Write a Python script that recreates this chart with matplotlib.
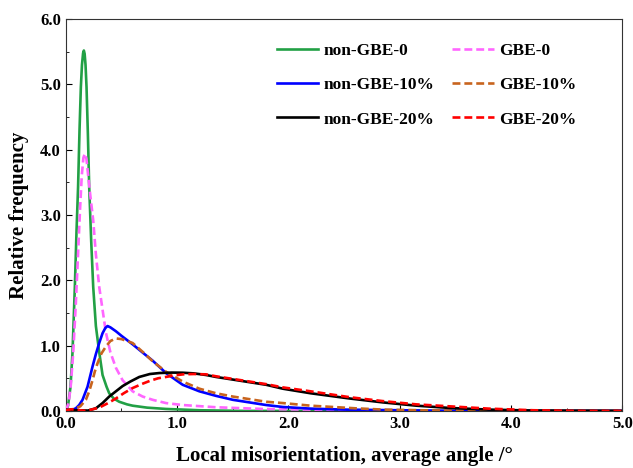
import numpy as np
import matplotlib.pyplot as plt
from matplotlib.ticker import MultipleLocator

plt.rcParams['font.family'] = ['Liberation Serif', 'DejaVu Serif']
plt.rcParams['font.weight'] = 'bold'

# values
x_ng0 = [0, 0.02, 0.042, 0.06, 0.081, 0.096, 0.11, 0.123, 0.135, 0.145, 0.155, 0.162, 0.169,
         0.177, 0.186, 0.198, 0.21, 0.228, 0.246, 0.27, 0.30, 0.33, 0.366, 0.39, 0.43, 0.48,
         0.55, 0.6, 0.73, 0.9, 1.2, 1.6, 5.0]
y_ng0 = [0, 0.08, 0.37, 0.9, 1.9, 2.75, 3.43, 4.3, 4.96, 5.3, 5.48, 5.52, 5.47,
         5.3, 4.96, 4.25, 3.43, 2.6, 1.9, 1.3, 0.9, 0.55, 0.37, 0.27, 0.19, 0.14,
         0.1, 0.08, 0.05, 0.03, 0.01, 0.0, 0]

x_g0 = [0, 0.025, 0.045, 0.066, 0.09, 0.11, 0.128, 0.143, 0.158, 0.171, 0.185, 0.2, 0.22,
        0.246, 0.27, 0.30, 0.33, 0.36, 0.40, 0.45, 0.51, 0.6, 0.69, 0.78, 0.9, 1.05,
        1.35, 1.8, 2.2, 2.6, 3.0, 5.0]
y_g0 = [0, 0.12, 0.4, 0.88, 1.65, 2.41, 3.1, 3.6, 3.88, 3.94, 3.86, 3.62, 3.3,
        2.92, 2.4, 1.9, 1.55, 1.2, 0.9, 0.66, 0.47, 0.3, 0.22, 0.17, 0.12, 0.09,
        0.056, 0.028, 0.02, 0.01, 0.0, 0]

x_ng10 = [0, 0.05, 0.09, 0.12, 0.15, 0.195, 0.24, 0.27, 0.30, 0.33, 0.355, 0.375, 0.40,
          0.45, 0.5, 0.6, 0.7, 0.78, 0.9, 1.05, 1.2, 1.35, 1.5, 1.8, 1.95, 2.2, 2.5,
          3.0, 3.5, 5.0]
y_ng10 = [0, 0.01, 0.04, 0.09, 0.17, 0.37, 0.68, 0.87, 1.04, 1.19, 1.27, 1.30, 1.28,
          1.22, 1.15, 1.02, 0.88, 0.77, 0.58, 0.40, 0.3, 0.23, 0.17, 0.09, 0.06, 0.035, 0.02,
          0.01, 0.0, 0]

x_g10 = [0, 0.05, 0.09, 0.13, 0.18, 0.21, 0.24, 0.26, 0.285, 0.32, 0.36, 0.40, 0.45,
         0.5, 0.6, 0.7, 0.78, 0.9, 1.05, 1.2, 1.35, 1.5, 1.8, 1.95, 2.2, 2.4, 2.6, 2.85,
         3.2, 3.6, 5.0]
y_g10 = [0, 0.02, 0.04, 0.07, 0.17, 0.3, 0.47, 0.6, 0.73, 0.88, 0.985, 1.07, 1.11,
         1.1, 1.04, 0.89, 0.76, 0.6, 0.45, 0.34, 0.27, 0.22, 0.14, 0.12, 0.08, 0.06, 0.04,
         0.02, 0.01, 0.0, 0]

x_ng20 = [0, 0.1, 0.2, 0.27, 0.33, 0.39, 0.45, 0.51, 0.58, 0.66, 0.755, 0.84, 0.95,
          1.05, 1.15, 1.26, 1.35, 1.5, 1.65, 1.8, 1.95, 2.2, 2.55, 2.85, 3.15, 3.45, 3.8,
          4.2, 5.0]
y_ng20 = [0.02, 0.01, 0.005, 0.04, 0.12, 0.22, 0.3, 0.38, 0.45, 0.52, 0.565, 0.58, 0.587,
          0.585, 0.575, 0.55, 0.52, 0.48, 0.44, 0.40, 0.34, 0.27, 0.19, 0.13, 0.08, 0.045, 0.02,
          0.005, 0]

x_g20 = [0, 0.05, 0.1, 0.18, 0.3, 0.38, 0.45, 0.52, 0.6, 0.68, 0.755, 0.83, 0.9, 0.98,
         1.055, 1.15, 1.26, 1.35, 1.5, 1.65, 1.8, 1.95, 2.2, 2.55, 2.85, 3.15, 3.45, 3.8,
         4.2, 4.6, 5.0]
y_g20 = [0.01, 0.025, 0.015, 0.0, 0.05, 0.12, 0.19, 0.27, 0.35, 0.41, 0.46, 0.5, 0.52, 0.545,
         0.56, 0.565, 0.56, 0.53, 0.49, 0.45, 0.41, 0.36, 0.30, 0.21, 0.15, 0.10, 0.07, 0.035,
         0.01, 0.0, 0]

series = [
    ("non-GBE-0", x_ng0, y_ng0, "#22A045", "-"),
    ("non-GBE-10%", x_ng10, y_ng10, "#0000FF", "-"),
    ("non-GBE-20%", x_ng20, y_ng20, "#000000", "-"),
    ("GBE-0", x_g0, y_g0, "#FF66FF", "--"),
    ("GBE-10%", x_g10, y_g10, "#C8641E", "--"),
    ("GBE-20%", x_g20, y_g20, "#FF0000", "--"),
]
draw_order = ["non-GBE-0", "GBE-0", "non-GBE-10%", "GBE-10%", "non-GBE-20%", "GBE-20%"]

fig = plt.figure(figsize=(6.33, 4.68), dpi=100)
ax = fig.add_axes([0.104, 0.122, 0.879, 0.837])

handles = {}
for label, xs, ys, color, ls in series:
    if ls == "--":
        h, = ax.plot(xs, ys, color=color, lw=1.9, label=label, dashes=(3.0, 1.5),
                     zorder=3 + draw_order.index(label))
    else:
        h, = ax.plot(xs, ys, color=color, lw=1.9, label=label,
                     zorder=3 + draw_order.index(label))
    handles[label] = h

ax.set_xlim(0, 5)
ax.set_ylim(0, 6)
ax.xaxis.set_major_locator(MultipleLocator(1))
ax.xaxis.set_minor_locator(MultipleLocator(0.5))
ax.yaxis.set_major_locator(MultipleLocator(1))
ax.yaxis.set_minor_locator(MultipleLocator(0.5))
ax.xaxis.set_major_formatter(plt.FormatStrFormatter('%.1f'))
ax.yaxis.set_major_formatter(plt.FormatStrFormatter('%.1f'))
ax.tick_params(which='both', direction='in', labelsize=12)
ax.tick_params(which='major', length=4)
ax.tick_params(which='minor', length=2.5)
for s in ax.spines.values():
    s.set_color('#333333')

ax.set_xlabel("Local misorientation, average angle /°", fontsize=15, fontweight='bold', labelpad=10)
ax.set_ylabel("Relative frequency", fontsize=15, fontweight='bold', labelpad=8)

labels = [s[0] for s in series]
leg = ax.legend([handles[l] for l in labels], labels, ncol=2, frameon=False, fontsize=12.5,
                loc='upper left', bbox_to_anchor=(0.351, 0.98), handlelength=2.4,
                handletextpad=0.3, columnspacing=1.0, labelspacing=1.05)

fig.savefig("out.png", dpi=100)
